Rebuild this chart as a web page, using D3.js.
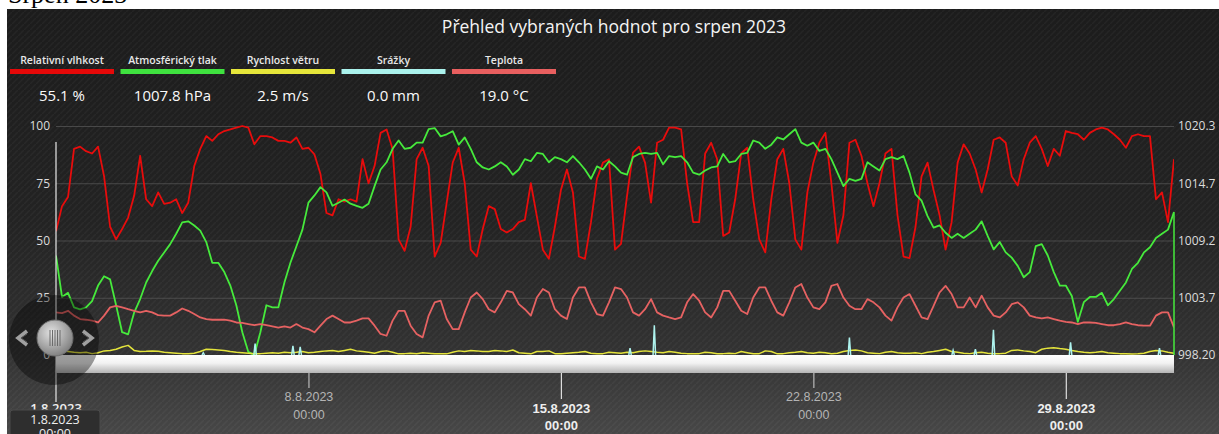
<!DOCTYPE html>
<html>
<head>
<meta charset="utf-8">
<script src="https://d3js.org/d3.v7.min.js"></script>
<style>
  html, body { margin: 0; padding: 0; background: #fff; }
  svg { display: block; font-family: "Open Sans", "Noto Sans", sans-serif; }
</style>
</head>
<body>
<svg id="chart"></svg>
<script>
  // sampled every 4 hours from 1.8.2023 00:00
  const start = new Date(2023, 7, 1, 0, 0);
  const end = new Date(2023, 8, 1, 0, 0);
  const stepHours = 4;

  const humidity = [54, 65, 69, 90, 91, 89, 88, 91, 78, 56, 50.5, 55, 60, 69.5, 87, 68, 65, 71, 66, 66.5,
    68, 62, 66.5, 82.5, 90, 95.6, 93.5, 96.4, 97.8, 98.5, 99.3, 100, 99.3, 92, 95.6, 95.6, 95, 93.5, 93.5, 92.7,
    95, 90, 90.5, 87.6, 79, 62, 61, 68,
    67, 68, 67, 85.5, 75, 82.5, 97, 98.5, 90, 50.5, 45.5, 56, 85.5, 90.5, 82.5, 43, 49, 66.5, 84, 90.5,
    75, 46, 43, 55, 65, 63.7, 55, 53.5, 55, 58, 59, 75, 60.5, 46, 42, 56, 72, 81, 71, 43,
    42, 58, 77, 84, 85.5, 46,
    48.5, 69.5, 88.4, 91, 84, 66.5, 92.7, 94, 99.3, 99.3, 98.5, 75, 58, 58, 88, 92.7, 85.5, 52, 53.5, 68,
    88, 90.5, 68, 50.5, 44.8, 68, 85.5, 90, 75, 50.5, 46, 71, 84, 92.7, 97, 75, 49, 61, 92.7, 94,
    87, 75, 65, 75, 88, 90, 61,
    43, 42.3, 56, 78, 84, 72, 61, 46, 58, 84, 92, 88, 81, 71, 81, 94, 95, 92.7, 78, 74,
    85.5, 92.7, 95.6, 90, 82.5, 90, 87, 97.8, 97, 96.4, 94, 97, 98.5, 99.3, 98.5, 96.4, 94, 90.5, 95.6, 96.4,
    95.6, 95.6, 68, 71, 58, 85.5];

  const pressure = [1007.8, 1003.8, 1004.2, 1002.8, 1002.6, 1002.8, 1003.4, 1004.9, 1005.8, 1005.5,
    1003.0, 1000.4, 1000.2, 1002.3, 1003.6, 1005.2, 1006.3, 1007.3, 1008.1, 1008.9,
    1009.9, 1011.0, 1011.1, 1010.7, 1010.2, 1009.1, 1007.1, 1007.1, 1006.2, 1004.9,
    1003.0, 1000.4, 998.5, 998.2, 1000.4, 1003.0, 1002.8, 1002.8, 1005.2, 1007.1,
    1008.7, 1010.3, 1012.9, 1013.6, 1014.4, 1013.9, 1012.6, 1012.9,
    1013.2, 1012.8, 1012.6, 1012.4, 1012.8, 1014.5, 1016.1, 1016.8, 1018.1, 1018.9,
    1018.1, 1018.2, 1018.7, 1018.7, 1020.0, 1020.1, 1019.3, 1019.5, 1019.8, 1018.5,
    1019.2, 1018.1, 1016.8, 1016.3, 1016.1, 1016.4, 1016.8, 1016.4, 1015.6, 1016.1,
    1017.1, 1016.9, 1017.7, 1017.6, 1016.8, 1017.3, 1017.1, 1016.8, 1017.4, 1016.8,
    1016.1, 1015.2, 1016.4, 1016.1, 1016.9, 1016.4,
    1015.8, 1015.6, 1017.3, 1017.6, 1017.7, 1017.6, 1017.7, 1016.6, 1017.4, 1017.3,
    1017.4, 1016.8, 1015.8, 1015.6, 1016.0, 1016.3, 1016.4, 1017.6, 1016.8, 1016.9,
    1017.6, 1017.7, 1018.9, 1018.7, 1018.1, 1018.5, 1019.2, 1019.0, 1019.5, 1020.0,
    1018.7, 1018.4, 1018.7, 1017.9, 1018.1, 1017.1, 1015.8, 1014.5, 1015.2, 1015.0,
    1015.2, 1016.8, 1016.4, 1016.0, 1017.1, 1017.3, 1017.1,
    1017.4, 1015.8, 1013.7, 1013.1, 1011.6, 1010.5, 1010.7, 1010.0, 1009.5, 1009.9,
    1009.5, 1009.9, 1010.3, 1011.1, 1009.7, 1008.4, 1009.1, 1008.1, 1007.6, 1006.8,
    1005.7, 1006.2, 1008.7, 1008.9, 1007.8, 1006.2, 1004.9, 1004.9, 1003.9, 1001.4,
    1003.3, 1003.8, 1003.8, 1004.2, 1003.0, 1003.6, 1004.4, 1005.2, 1006.5, 1007.1,
    1008.1, 1008.6, 1009.5, 1009.9, 1010.3, 1012.0];

  const windSpeed = [1.5, 1.8, 1.5, 1.2, 1.0, 1.2, 0.6, 1.0, 1.8, 2.0, 2.5, 3.5, 4.2, 2.0, 1.5,
    1.6, 1.8, 1.6, 1.2, 1.0, 0.8, 0.6, 0.5, 0.8, 1.5, 2.5, 2.4, 2.2, 2.0, 1.5, 1.2,
    1.0, 0.8, 0.5, 0.6, 0.8, 1.0, 0.8, 1.2, 1.0, 1.2, 1.5, 1.0, 1.2, 1.5, 1.8, 2.0, 1.5,
    2.0, 2.5, 1.8, 1.5, 1.2, 0.8, 1.5, 1.8, 1.2, 0.5, 0.6, 0.8, 0.5, 1.0, 0.8, 0.5, 0.6, 0.5, 1.2, 1.8,
    1.5, 2.0, 1.8, 1.5, 1.5, 2.0, 1.8, 1.5, 2.2, 1.0, 0.8, 0.5, 1.5, 1.5, 1.8, 0.6, 0.5, 0.8, 1.0, 1.2,
    1.5, 0.8, 0.5, 0.6, 1.2, 1.0,
    0.8, 1.2, 1.0, 1.5, 1.8, 1.5, 1.2, 1.0, 1.5, 1.2, 0.8, 0.6, 0.5, 0.6, 1.2, 1.0, 0.5, 0.6, 0.8, 0.6,
    1.5, 1.0, 0.5, 0.6, 1.8, 1.5, 0.5, 0.6, 1.0, 1.2, 1.5, 1.0, 0.8, 1.2, 1.0, 0.5, 0.8, 1.5, 2.0, 2.2,
    1.8, 1.0, 0.8, 0.6, 1.2, 1.5, 1.0,
    0.8, 0.8, 1.0, 0.6, 1.2, 1.5, 2.0, 2.5, 1.5, 1.2, 0.8, 0.6, 1.0, 1.2, 0.8, 0.5, 0.6, 0.8, 2.0, 2.2,
    1.8, 1.5, 1.0, 2.5, 3.0, 3.2, 2.8, 2.5, 2.0, 1.5, 1.2, 1.0, 1.2, 1.5, 1.0, 0.8, 0.6, 0.5, 0.4, 0.5,
    0.8, 1.5, 2.0, 1.8, 1.2, 0.8];

  const temperature = [18.6, 18.3, 19.3, 17.2, 15.7, 15.4, 15.0, 14.2, 17.2, 20.8,
    21.5, 20.8, 20.0, 19.3, 18.6, 19.3, 18.6, 17.4, 17.2, 17.2,
    18.6, 20.3, 19.3, 17.9, 16.4, 15.7, 15.4, 15.4, 15.4, 15.0,
    14.2, 14.0, 13.5, 13.0, 13.5, 13.0, 12.5, 12.0, 12.5, 12.0,
    13.5, 12.0, 11.3, 9.9, 12.8, 15.7, 17.2, 15.7,
    14.2, 14.2, 15.0, 16.0, 16.0, 12.8, 9.2, 8.4, 15.0, 19.3,
    19.3, 12.8, 9.2, 7.7, 17.2, 23.0, 23.7, 15.7, 11.3, 11.3,
    18.6, 25.1, 27.3, 24.4, 20.0, 18.6, 23.0, 28.0, 27.3, 22.2,
    20.0, 17.2, 25.1, 28.8, 27.3, 20.0, 17.2, 15.7, 25.1, 29.5,
    29.5, 23.0, 17.9, 17.2, 23.0, 29.5,
    28.8, 25.1, 18.6, 17.2, 20.0, 24.4, 18.6, 17.2, 16.4, 15.7,
    16.4, 23.0, 26.6, 23.7, 18.6, 16.4, 20.8, 28.0, 28.0, 23.7,
    19.3, 17.9, 25.1, 29.5, 29.5, 23.7, 18.6, 17.2, 23.0, 29.5,
    31.0, 25.1, 20.8, 20.0, 23.0, 30.2, 31.0, 25.1, 21.5, 20.0,
    20.0, 24.4, 23.0, 20.8, 17.2, 15.0, 20.8,
    25.1, 26.6, 21.5, 16.4, 15.7, 21.5, 27.3, 30.2, 26.6, 20.8,
    20.8, 25.1, 20.8, 25.9, 20.8, 17.2, 16.4, 18.6, 22.2, 23.0,
    20.8, 17.2, 16.4, 16.0, 16.4, 15.7, 15.0, 14.5, 14.2, 13.5,
    14.2, 14.2, 14.0, 13.5, 13.0, 13.0, 13.5, 14.2, 13.5, 13.0,
    12.8, 12.8, 17.2, 18.6, 18.6, 12.0];

  // rain events (mm)
  const rainTimes = ["2023-08-05T02:00", "2023-08-06T12:30", "2023-08-07T13:40", "2023-08-07T18:30",
    "2023-08-16T22:00", "2023-08-17T14:10", "2023-08-23T00:00", "2023-08-25T21:00",
    "2023-08-26T11:50", "2023-08-26T23:50", "2023-08-29T03:10", "2023-08-31T14:20"];
  const rainMm = [1, 5, 4, 3.5, 3, 13, 7.6, 2, 2.6, 11, 5.5, 3];

  const legendNames = ["Relativní vlhkost", "Atmosférický tlak", "Rychlost větru", "Srážky", "Teplota"];
  const legendValues = ["55.1 %", "1007.8 hPa", "2.5 m/s", "0.0 mm", "19.0 °C"];
  const legendColors = ["#e60808", "#3fe23f", "#e6e63a", "#aaf2ec", "#e85f5f"];

  const leftTicks = [0, 25, 50, 75, 100];
  const rightTicks = [998.2, 1003.725, 1009.25, 1014.775, 1020.3];
  const rightTickLabels = ["998.20", "1003.7", "1009.2", "1014.7", "1020.3"];
  const xTicks = [new Date(2023, 7, 8), new Date(2023, 7, 15), new Date(2023, 7, 22), new Date(2023, 7, 29)];

  const W = 1219, H = 434;
  const plot = { left: 56, right: 1174, top: 126, bottom: 355 };

  const svg = d3.select("#chart").attr("width", W).attr("height", H);
  const defs = svg.append("defs");

  const bg = defs.append("linearGradient").attr("id", "bg").attr("x1", 0).attr("y1", 0).attr("x2", 0).attr("y2", 1);
  bg.append("stop").attr("offset", "0%").attr("stop-color", "#1c1c1c");
  bg.append("stop").attr("offset", "50%").attr("stop-color", "#232323");
  bg.append("stop").attr("offset", "80%").attr("stop-color", "#323232");
  bg.append("stop").attr("offset", "100%").attr("stop-color", "#474747");

  const nav = defs.append("linearGradient").attr("id", "nav").attr("x1", 0).attr("y1", 0).attr("x2", 0).attr("y2", 1);
  nav.append("stop").attr("offset", "0%").attr("stop-color", "#ffffff");
  nav.append("stop").attr("offset", "45%").attr("stop-color", "#f2f2f2");
  nav.append("stop").attr("offset", "100%").attr("stop-color", "#b4b4b4");

  const knob = defs.append("radialGradient").attr("id", "knob").attr("cx", "40%").attr("cy", "35%").attr("r", "70%");
  knob.append("stop").attr("offset", "0%").attr("stop-color", "#e2e2e2");
  knob.append("stop").attr("offset", "100%").attr("stop-color", "#7c7c7c");

  const tex = defs.append("pattern").attr("id", "tex").attr("width", 6).attr("height", 6)
    .attr("patternUnits", "userSpaceOnUse");
  tex.append("path").attr("d", "M0,6 L6,0").attr("stroke", "#fff").attr("stroke-opacity", 0.035).attr("stroke-width", 1.5);

  defs.append("clipPath").attr("id", "clip").append("rect")
    .attr("x", plot.left).attr("y", 110).attr("width", plot.right - plot.left).attr("height", 250);

  // top strip with cut heading
  svg.append("text").attr("x", 8).attr("y", 3)
    .style("font-family", "'Liberation Serif', 'DejaVu Serif', serif").style("font-size", "26px")
    .attr("fill", "#000").text("Srpen 2023");

  svg.append("rect").attr("x", 7).attr("y", 9).attr("width", W - 7).attr("height", H - 9).attr("fill", "url(#bg)");
  svg.append("rect").attr("x", 7).attr("y", 9).attr("width", W - 7).attr("height", H - 9).attr("fill", "url(#tex)");

  svg.append("text").attr("x", 614).attr("y", 33).attr("text-anchor", "middle")
    .attr("fill", "#f4f4f4").style("font-size", "17.5px").text("Přehled vybraných hodnot pro srpen 2023");

  // legend
  const legend = svg.append("g");
  legendNames.forEach((name, i) => {
    const cx = 62 + i * 110.5;
    legend.append("text").attr("x", cx).attr("y", 64).attr("text-anchor", "middle")
      .attr("fill", "#e8e8e8").style("font-size", "10.5px").style("font-weight", 600).text(name);
    legend.append("rect").attr("x", cx - 52).attr("y", 69).attr("width", 104).attr("height", 5)
      .attr("fill", legendColors[i]);
    legend.append("text").attr("x", cx).attr("y", 101).attr("text-anchor", "middle")
      .attr("fill", "#fafafa").style("font-size", "15px").text(legendValues[i]);
  });

  const x = d3.scaleTime().domain([start, end]).range([plot.left, plot.right]);
  const yLeft = d3.scaleLinear().domain([0, 100]).range([plot.bottom, plot.top]);
  const yRight = d3.scaleLinear().domain([998.2, 1020.3]).range([plot.bottom, plot.top]);

  // grid + left axis
  const gLeft = svg.append("g").attr("transform", `translate(${plot.left},0)`)
    .call(d3.axisLeft(yLeft).tickValues(leftTicks).tickSize(-(plot.right - plot.left)).tickPadding(6));
  gLeft.select(".domain").remove();
  gLeft.selectAll(".tick line").attr("stroke", "#5a5a5a").attr("stroke-opacity", 0.7)
    .filter(d => d === 0).remove();
  gLeft.selectAll(".tick text").attr("fill", "#dcdcdc").style("font-size", "12px")
    .style("font-family", "'Open Sans', sans-serif");

  const gRight = svg.append("g").attr("transform", `translate(${plot.right},0)`)
    .call(d3.axisRight(yRight).tickValues(rightTicks).tickSize(0).tickPadding(4)
      .tickFormat((d, i) => rightTickLabels[i]));
  gRight.select(".domain").remove();
  gRight.selectAll(".tick text").attr("fill", "#dcdcdc").style("font-size", "12px")
    .style("font-family", "'Open Sans', sans-serif");

  const series = (vals) => vals.map((v, k) => ({ t: new Date(start.getTime() + k * stepHours * 3600e3), v }));

  const lines = svg.append("g").attr("clip-path", "url(#clip)");
  const leftLine = d3.line().x(d => x(d.t)).y(d => yLeft(d.v));
  const rightLine = d3.line().x(d => x(d.t)).y(d => yRight(d.v));

  const pData = series(pressure);

  lines.append("path").datum(series(humidity)).attr("d", leftLine)
    .attr("fill", "none").attr("stroke", "#e80c0c").attr("stroke-width", 1.8).attr("stroke-linejoin", "round");
  lines.append("path").datum(pData).attr("d", rightLine)
    .attr("fill", "none").attr("stroke", "#46ea3c").attr("stroke-width", 1.8).attr("stroke-linejoin", "round");
  lines.append("path").datum(series(windSpeed)).attr("d", leftLine)
    .attr("fill", "none").attr("stroke", "#e4e43c").attr("stroke-width", 1.5).attr("stroke-linejoin", "round");

  const rainPts = rainTimes.map((s, i) => ({ t: new Date(s), v: rainMm[i] }));
  rainPts.forEach(d => {
    const pts = [{ t: new Date(d.t.getTime() - 50 * 60e3), v: 0 }, d, { t: new Date(d.t.getTime() + 50 * 60e3), v: 0 }];
    lines.append("path").datum(pts).attr("d", leftLine)
      .attr("fill", "none").attr("stroke", "#aef3ee").attr("stroke-width", 1.5);
  });

  lines.append("path").datum(series(temperature)).attr("d", leftLine)
    .attr("fill", "none").attr("stroke", "#e66262").attr("stroke-width", 1.8).attr("stroke-linejoin", "round");

  // pressure drop line at series end
  const last = pData[pData.length - 1];
  svg.append("line").attr("x1", x(end)).attr("x2", x(end))
    .attr("y1", yRight(last.v)).attr("y2", yRight(998.2))
    .attr("stroke", "#46ea3c").attr("stroke-width", 1.5);

  // start line
  svg.append("line").attr("x1", x(start)).attr("x2", x(start)).attr("y1", 142).attr("y2", 402)
    .attr("stroke", "#e8e8e8").attr("stroke-width", 1.2);

  // navigator bar
  svg.append("rect").attr("x", plot.left).attr("y", plot.bottom).attr("width", plot.right - plot.left)
    .attr("height", 18).attr("fill", "url(#nav)");

  // x axis
  const gx = svg.append("g").attr("transform", `translate(0,373)`)
    .call(d3.axisBottom(x).tickValues(xTicks).tickSize(0).tickFormat(""));
  gx.select(".domain").remove();
  gx.selectAll(".tick").each(function (d, i) {
    const low = i % 2 === 1;
    const g = d3.select(this);
    g.append("line").attr("y1", 0).attr("y2", low ? 26 : 15).attr("stroke", low ? "#dddddd" : "#b8b8b8")
      .attr("stroke-width", 1.2);
    const t = g.append("text").attr("text-anchor", "middle")
      .attr("fill", low ? "#eeeeee" : "#b4b4b4")
      .style("font-size", low ? "13px" : "12.5px").style("font-weight", low ? 600 : 400);
    t.append("tspan").attr("x", 0).attr("y", low ? 40 : 28)
      .text(`${d.getDate()}.${d.getMonth() + 1}.${d.getFullYear()}`);
    t.append("tspan").attr("x", 0).attr("y", low ? 57 : 46).text("00:00");
  });

  svg.append("text").attr("x", x(start)).attr("y", 413).attr("text-anchor", "middle")
    .attr("fill", "#eeeeee").style("font-size", "13px").style("font-weight", 600).text("1.8.2023");

  // tooltip box
  svg.append("rect").attr("x", 10).attr("y", 410).attr("width", 90).attr("height", 30).attr("rx", 3)
    .attr("fill", "#2e2e2e").attr("stroke", "#4a4a4a");
  svg.append("text").attr("x", 55).attr("y", 424).attr("text-anchor", "middle")
    .attr("fill", "#eeeeee").style("font-size", "12.5px").text("1.8.2023");
  svg.append("text").attr("x", 55).attr("y", 438).attr("text-anchor", "middle")
    .attr("fill", "#eeeeee").style("font-size", "12.5px").text("00:00");

  // navigator knob
  svg.append("circle").attr("cx", 54).attr("cy", 340).attr("r", 45).attr("fill", "#000").attr("fill-opacity", 0.38);
  [[22, 1], [88, -1]].forEach(([ax, dir]) => {
    svg.append("path")
      .attr("d", `M${ax + 5 * dir},${331} L${ax - 4 * dir},${338} L${ax + 5 * dir},${345}`)
      .attr("fill", "none").attr("stroke", "#a0a0a0").attr("stroke-width", 3.5).attr("stroke-linejoin", "miter");
    svg.append("path")
      .attr("d", `M${ax + 5 * dir},${334} L${ax - 1 * dir},${338} L${ax + 5 * dir},${342}`)
      .attr("fill", "none").attr("stroke", "#555").attr("stroke-width", 1);
  });
  svg.append("circle").attr("cx", 55).attr("cy", 338).attr("r", 18).attr("fill", "url(#knob)")
    .attr("stroke", "#6e6e6e").attr("stroke-width", 1);
  d3.range(5).forEach(i => {
    svg.append("line").attr("x1", 50 + i * 2.5).attr("x2", 50 + i * 2.5).attr("y1", 330).attr("y2", 346)
      .attr("stroke", "#6a6a6a").attr("stroke-width", 1);
  });
</script>
</body>
</html>
